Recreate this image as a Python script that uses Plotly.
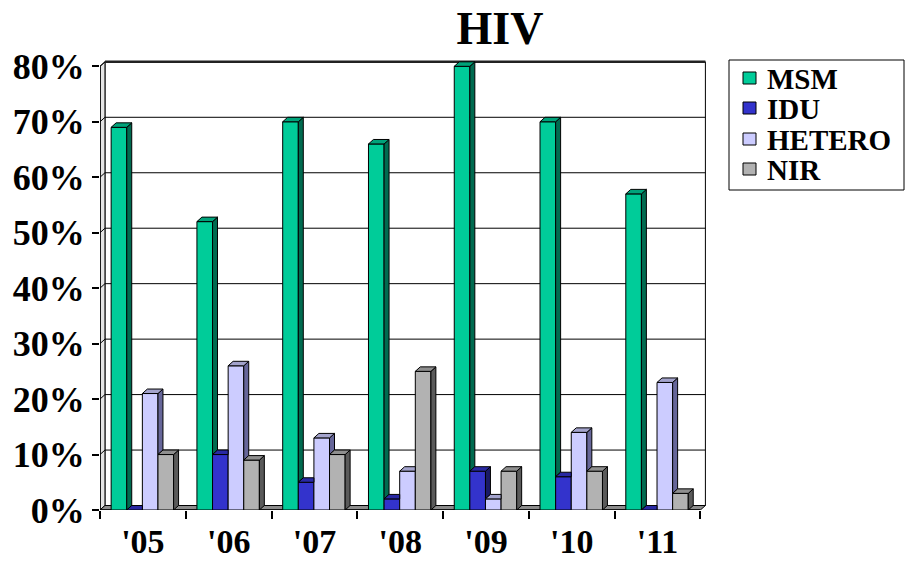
import plotly.graph_objects as go

# ---------------- data ----------------
years = ["'05", "'06", "'07", "'08", "'09", "'10", "'11"]
series_names = ["MSM", "IDU", "HETERO", "NIR"]
msm = [69, 52, 70, 66, 80, 70, 57]
idu = [0, 10, 5, 2, 7, 6, 0]
hetero = [21, 26, 13, 7, 2, 14, 23]
nir = [10, 9, 10, 25, 7, 7, 3]
y_tick_values = [0, 10, 20, 30, 40, 50, 60, 70, 80]
y_tick_labels = ["0%", "10%", "20%", "30%", "40%", "50%", "60%", "70%", "80%"]
title_text = "HIV"

# ---------------- styles ----------------
front_colors = ["#00CC99", "#3333CC", "#CCCCFF", "#B2B2B2"]
top_colors = ["#00A37A", "#2929A3", "#A3A3CC", "#8F8F8F"]
side_colors = ["#006B50", "#1A1A66", "#666699", "#5A5A5A"]
FONT = "Liberation Serif, Times New Roman, serif"
BAR_W = 0.182
START = 0.13
DX = 0.058
DY = 0.81
YMAX = 80

values = [msm, idu, hetero, nir]
n = len(years)

fig = go.Figure()

# front faces (bars)
for j, name in enumerate(series_names):
    xs = [i + START + j * BAR_W + BAR_W / 2 for i in range(n)]
    fig.add_trace(go.Bar(
        x=xs, y=values[j], width=BAR_W, name=name,
        marker=dict(color=front_colors[j], line=dict(color="black", width=1)),
        hoverinfo="skip", showlegend=False,
    ))

# side and top faces
for j, name in enumerate(series_names):
    sx, sy, tx, ty = [], [], [], []
    for i in range(n):
        v = values[j][i]
        hn = values[j + 1][i] if j < len(series_names) - 1 else 0
        x0 = i + START + j * BAR_W
        x1 = x0 + BAR_W
        if hn < v:
            pts = [(x1, hn), (x1 + DX, hn + DY), (x1 + DX, v + DY), (x1, v), (x1, hn)]
            sx += [p[0] for p in pts] + [None]
            sy += [p[1] for p in pts] + [None]
        if hn <= v:
            pts = [(x0, v), (x0 + DX, v + DY), (x1 + DX, v + DY), (x1, v), (x0, v)]
        elif hn >= v + DY:
            pts = [(x0, v), (x0 + DX, v + DY), (x1, v + DY), (x1, v), (x0, v)]
        else:
            pts = [(x0, v), (x0 + DX, v + DY), (x1 + DX, v + DY),
                   (x1 + (hn - v) * DX / DY, hn), (x1, hn), (x1, v), (x0, v)]
        tx += [p[0] for p in pts] + [None]
        ty += [p[1] for p in pts] + [None]
    fig.add_trace(go.Scatter(x=sx, y=sy, mode="lines", fill="toself",
                             fillcolor=side_colors[j], line=dict(color="black", width=1),
                             showlegend=False, hoverinfo="skip"))
    fig.add_trace(go.Scatter(x=tx, y=ty, mode="lines", fill="toself",
                             fillcolor=top_colors[j], line=dict(color="black", width=1),
                             showlegend=False, hoverinfo="skip"))

# walls, floor, gridlines
shapes = []
shapes.append(dict(type="path", layer="below",
                   path=f"M {DX},{DY} L {n + DX},{DY} L {n + DX},{YMAX + DY} L {DX},{YMAX + DY} Z",
                   fillcolor="white", line=dict(color="black", width=1)))
shapes.append(dict(type="path", layer="below",
                   path=f"M 0,0 L {DX},{DY} L {DX},{YMAX + DY} L 0,{YMAX} Z",
                   fillcolor="#e4e4e4", line=dict(color="black", width=1)))
shapes.append(dict(type="path", layer="below",
                   path=f"M 0,0 L {n},0 L {n + DX},{DY} L {DX},{DY} Z",
                   fillcolor="#8c8c8c", line=dict(color="black", width=1)))
for v in y_tick_values[1:-1]:
    shapes.append(dict(type="line", layer="below", x0=DX, y0=v + DY, x1=n + DX, y1=v + DY,
                       line=dict(color="black", width=1)))
    shapes.append(dict(type="line", layer="below", x0=0, y0=v, x1=DX, y1=v + DY,
                       line=dict(color="black", width=1)))
shapes.append(dict(type="line", layer="below", x0=DX, y0=YMAX + DY, x1=n + DX, y1=YMAX + DY,
                   line=dict(color="#222", width=2.5)))
shapes.append(dict(type="line", layer="below", x0=0, y0=YMAX, x1=DX, y1=YMAX + DY,
                   line=dict(color="black", width=1)))
shapes.append(dict(type="line", layer="below", x0=0, y0=0, x1=0, y1=YMAX,
                   line=dict(color="black", width=1.5)))
shapes.append(dict(type="line", layer="below", x0=0, y0=0, x1=n, y1=0,
                   line=dict(color="black", width=1.5)))

# manual legend (box, swatches, labels) in pixel-derived paper coordinates
L, R, T, B = 100, 199, 58, 51
PW, PH = 908 - L - R, 561 - T - B
def px(xp):
    return (xp - L) / PW
def py(yp):
    return (561 - B - yp) / PH

annotations = []
shapes.append(dict(type="rect", xref="paper", yref="paper",
                   x0=px(729), x1=px(904), y0=py(190), y1=py(60),
                   line=dict(color="black", width=1), fillcolor="white"))
legend_rows = [78, 108, 139, 169]
for j, name in enumerate(series_names):
    yc = legend_rows[j]
    shapes.append(dict(type="rect", xref="paper", yref="paper",
                       x0=px(743), x1=px(756), y0=py(yc + 6), y1=py(yc - 6),
                       line=dict(color="black", width=1), fillcolor=front_colors[j]))
    annotations.append(dict(text=name, xref="paper", yref="paper", x=px(765), y=py(yc + 1),
                            xanchor="left", yanchor="middle", showarrow=False,
                            font=dict(family=FONT, size=29, color="black", weight="bold")))

fig.update_layout(
    width=908, height=561,
    margin=dict(l=L, r=R, t=T, b=B),
    paper_bgcolor="white", plot_bgcolor="white",
    barmode="overlay",
    shapes=shapes,
    annotations=annotations,
    title=dict(text=title_text, x=px(500), xref="paper", xanchor="center",
               y=1 - 28 / 561, yref="container", yanchor="middle",
               font=dict(family=FONT, size=46, color="black", weight="bold")),
    showlegend=False,
)
fig.update_xaxes(range=[0, n + 0.1], showgrid=False, zeroline=False, showline=False,
                 automargin=False,
                 tickmode="array", tickvals=[i + 0.5 for i in range(n)], ticktext=years,
                 ticks="", ticklabelstandoff=8,
                 tickfont=dict(family=FONT, size=34, color="black", weight="bold"),
                 minor=dict(tickmode="array", tickvals=list(range(n + 1)), ticks="outside",
                            ticklen=8, tickcolor="black", tickwidth=1.5, showgrid=False),
                 fixedrange=True)
fig.update_yaxes(range=[0, YMAX + 1.5], showgrid=False, zeroline=False, showline=False,
                 automargin=False,
                 tickmode="array", tickvals=y_tick_values, ticktext=y_tick_labels,
                 ticks="outside", ticklen=7, tickcolor="black", tickwidth=1.5,
                 ticklabelstandoff=0,
                 tickfont=dict(family=FONT, size=36, color="black", weight="bold"),
                 fixedrange=True)

fig.write_html("out.html", config={"displayModeBar": False},
               post_script="document.body.style.margin='0px';")
